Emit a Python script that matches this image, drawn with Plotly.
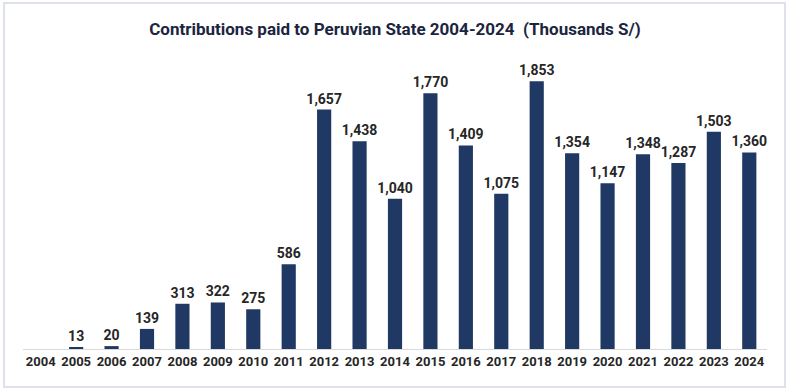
import plotly.graph_objects as go

years = [str(y) for y in range(2004, 2025)]
values = [0, 13, 20, 139, 313, 322, 275, 586, 1657, 1438, 1040, 1770, 1409, 1075, 1853, 1354, 1147, 1348, 1287, 1503, 1360]
labels = ["" if v == 0 else f"{v:,}" for v in values]

W, H = 791, 392
ml, mr, mt, mb = 23, 24, 60, 43
pw, ph = W - ml - mr, H - mt - mb

font_fam = "Roboto, Liberation Sans, Arial, sans-serif"

fig = go.Figure(go.Bar(
    x=years, y=values, text=labels, textposition="outside",
    texttemplate="<b>%{text}</b>",
    textfont=dict(family=font_fam, size=14, color="#262626"),
    marker=dict(color="#203864", line=dict(width=0)),
    width=0.4, cliponaxis=False, constraintext="none",
))

def px_x(p):
    return (p - ml) / pw

def px_y(p):
    return (H - mb - p) / ph

fig.add_shape(type="rect", xref="paper", yref="paper",
              x0=px_x(4), x1=px_x(785), y0=px_y(387), y1=px_y(3),
              line=dict(color="#dde2ea", width=2), fillcolor="rgba(0,0,0,0)", layer="below")

fig.update_layout(
    width=W, height=H,
    margin=dict(l=ml, r=mr, t=mt, b=mb),
    paper_bgcolor="white", plot_bgcolor="white",
    title=dict(text="<b>Contributions paid to Peruvian State 2004-2024  (Thousands S/)</b>",
               x=0.5, xref="paper", xanchor="center", y=1 - 29 / H, yanchor="middle",
               font=dict(family=font_fam, size=17, color="#1b2540")),
    xaxis=dict(showgrid=False, showline=True, linecolor="#d9d9d9", linewidth=1,
               ticks="", tickangle=0, tickfont=dict(family=font_fam, size=13, color="#262626"),
               tickprefix="<b>", ticksuffix="</b>"),
    yaxis=dict(range=[0, 2000], visible=False, showgrid=False),
    showlegend=False,
)

fig.write_html("out.html", config={"displayModeBar": False},
               post_script="document.body.style.margin='0';document.body.style.overflow='hidden';")
